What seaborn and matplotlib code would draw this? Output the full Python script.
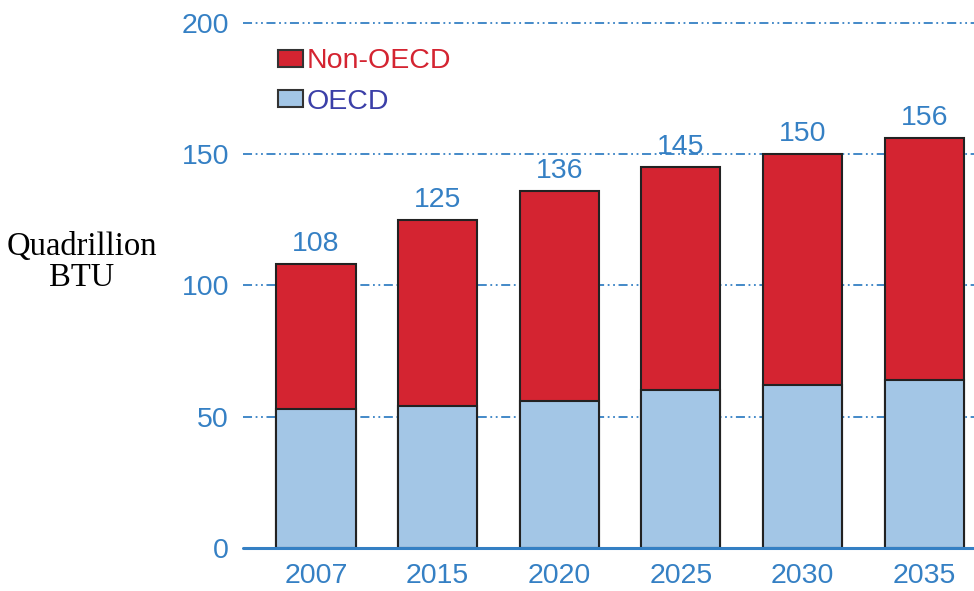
import matplotlib
matplotlib.use("Agg")
import matplotlib.pyplot as plt
from matplotlib.patches import Patch
import seaborn as sns
import pandas as pd

years = ["2007", "2015", "2020", "2025", "2030", "2035"]
totals = [108, 125, 136, 145, 150, 156]
oecd = [53, 54, 56, 60, 62, 64]
non_oecd = [t - o for t, o in zip(totals, oecd)]

df = pd.DataFrame({"year": years, "OECD": oecd, "Non-OECD": non_oecd, "total": totals})

RED = "#d42431"
LIGHT = "#a3c6e6"
BLUE = "#3580c4"

sns.set_style("white")
plt.rcParams["font.family"] = ["Liberation Sans", "DejaVu Sans"]

fig = plt.figure(figsize=(9.74, 5.91), dpi=100)
ax = fig.add_axes([243 / 974, 43 / 591, 1 - 243 / 974, 528 / 591])

# gridlines behind bars
for v in [50, 100, 150, 200]:
    ax.axhline(v, color=BLUE, lw=1.3, linestyle=(0, (5, 2, 1, 2, 1, 2)), zorder=0)

sns.barplot(data=df, x="year", y="total", color=RED, width=0.65,
            edgecolor="#222222", linewidth=1.5, saturation=1, ax=ax, zorder=2)
sns.barplot(data=df, x="year", y="OECD", color=LIGHT, width=0.65,
            edgecolor="#222222", linewidth=1.5, saturation=1, ax=ax, zorder=3)

for i, t in enumerate(df["total"]):
    ax.annotate(str(t), (i, t), xytext=(0, 5), textcoords="offset points",
                ha="center", va="bottom", fontsize=20.5, color=BLUE)

ax.axhline(0, color=BLUE, lw=2.2, zorder=4, clip_on=False)
ax.set_xlim(-0.6, 5.41)
ax.set_ylim(0, 201)
ax.set_yticks([0, 50, 100, 150, 200])
ax.tick_params(axis="both", length=0, labelsize=20.5, colors=BLUE)
ax.tick_params(axis="x", pad=11)
ax.tick_params(axis="y", pad=10)
ax.set_xlabel("")
ax.set_ylabel("")
for s in ax.spines.values():
    s.set_visible(False)

fig.text(82 / 974, 1 - 262 / 591, "Quadrillion\nBTU", ha="center", va="center",
         fontsize=23.5, family=["Liberation Serif", "DejaVu Serif"], color="black",
         linespacing=1.0)

handles = [Patch(facecolor=RED, edgecolor="#333333", linewidth=1.5, label="Non-OECD"),
           Patch(facecolor=LIGHT, edgecolor="#333333", linewidth=1.5, label="OECD")]
leg = ax.legend(handles=handles, loc="upper left", bbox_to_anchor=(0.032, 0.968),
                frameon=False, fontsize=20.5, handlelength=0.9, handleheight=0.55,
                handletextpad=0.1, labelspacing=0.5, borderaxespad=0)
leg.get_texts()[0].set_color(RED)
leg.get_texts()[1].set_color("#3b3fa8")

fig.savefig("out.png", dpi=100)
